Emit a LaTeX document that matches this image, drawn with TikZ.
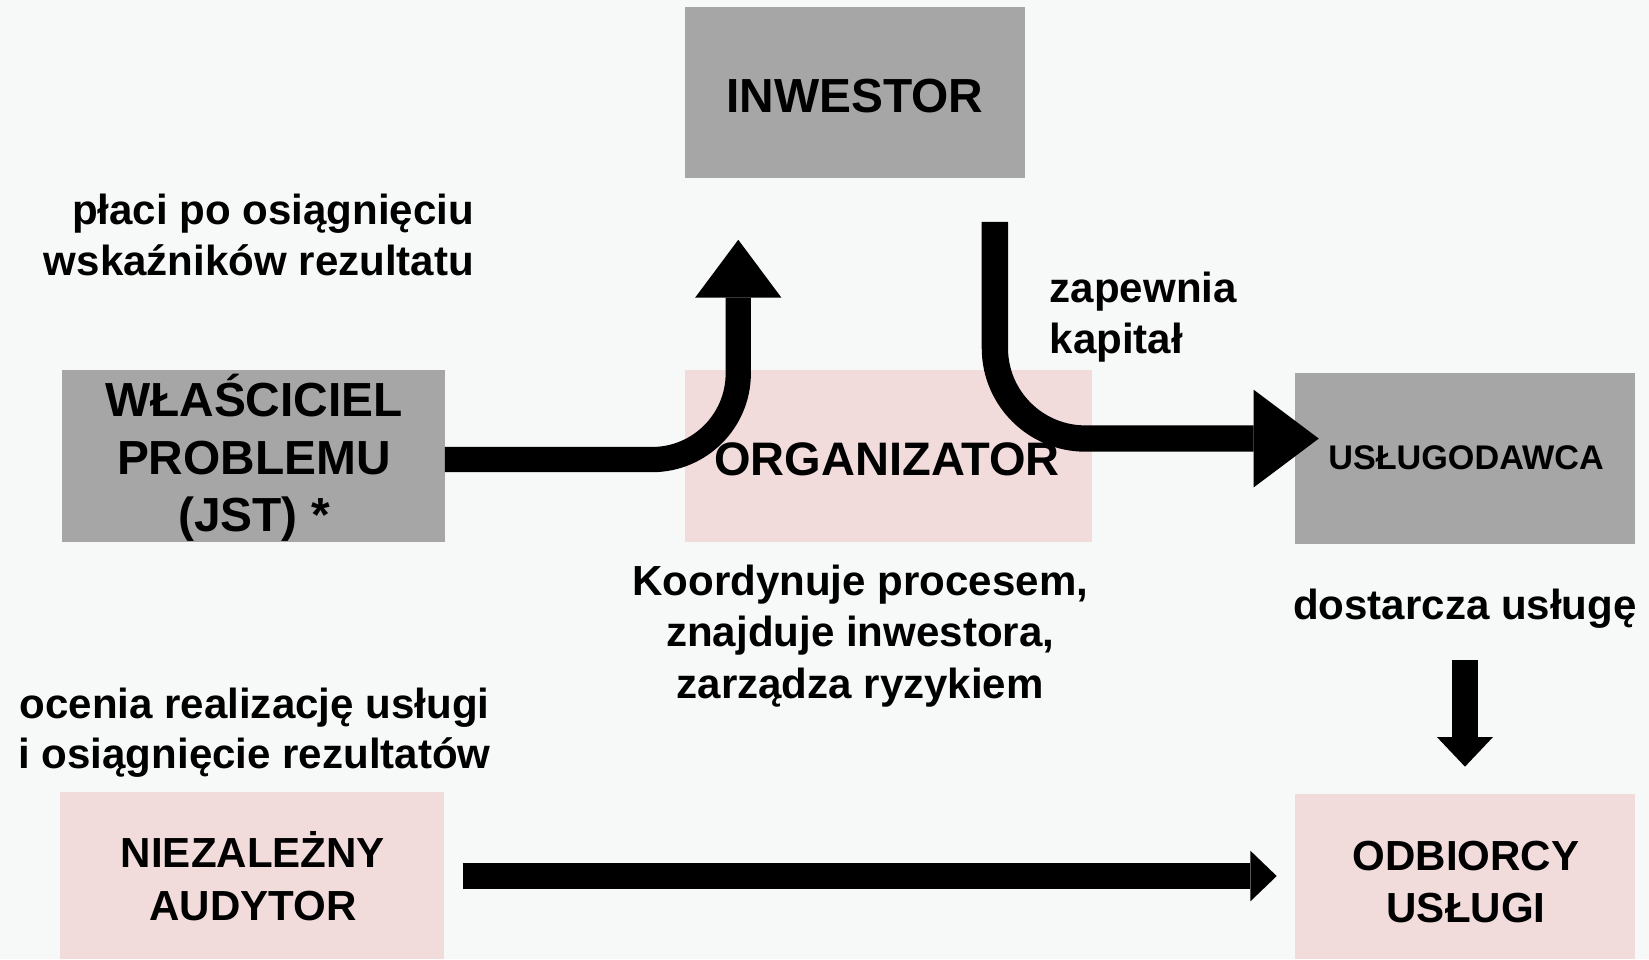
\documentclass[tikz,border=0pt]{standalone}
\usepackage{fontspec}
\setmainfont{Liberation Sans}
\usetikzlibrary{arrows.meta,calc}
\definecolor{bg}{HTML}{F7F8F8}
\definecolor{boxgray}{HTML}{A6A6A6}
\definecolor{boxpink}{HTML}{F2DCDB}
\begin{document}
\begin{tikzpicture}[x=1pt,y=-1pt,
  graybox/.style={fill=boxgray, draw=none, inner sep=0pt, outer sep=0pt},
  pinkbox/.style={fill=boxpink, draw=none, inner sep=0pt, outer sep=0pt},
  title/.style={font=\fontsize{45.5}{55}\selectfont\bfseries, anchor=base, inner sep=0pt},
  smalltitle/.style={font=\fontsize{40}{50}\selectfont\bfseries, anchor=base, inner sep=0pt},
  tinytitle/.style={font=\fontsize{32.5}{38}\selectfont\bfseries, anchor=base, inner sep=0pt},
  lbl/.style={font=\fontsize{40}{48}\selectfont\bfseries, anchor=base, inner sep=0pt},
  bigarrow/.style={line width=#1, draw=black}
]
\useasboundingbox (0,0) rectangle (1568,912);
\fill[bg] (0,0) rectangle (1568,912);

% boxes
\node[graybox, minimum width=324pt, minimum height=162pt] (inw) at (813,88) {};
\node[graybox, minimum width=364pt, minimum height=163pt] (wl) at (241,433.5) {};
\node[pinkbox, minimum width=387pt, minimum height=163pt] (org) at (844.5,433.5) {};
\node[graybox, minimum width=324pt, minimum height=162pt] (usl) at (1393,436) {};
\node[pinkbox, minimum width=365pt, minimum height=159pt] (aud) at (239.5,832.5) {};
\node[pinkbox, minimum width=324pt, minimum height=157pt] (odb) at (1393,833.5) {};

% connector end points
\coordinate (a1tip) at (702,228);
\coordinate (a2start) at (946,211);
\coordinate (a2tip) at (1254,417);
\coordinate (a3start) at (1393,628);
\coordinate (a3tip) at (1393,729);
\coordinate (a4start) at (440,833);
\coordinate (a4tip) at (1214,833);

% arrows
\draw[bigarrow=24pt, rounded corners=82pt,
  -{Triangle[length=55pt, width=82pt, line width=0pt]}]
  ($(wl.east)+(0,3.5)$) -| (a1tip);
\draw[bigarrow=25pt, rounded corners=86pt,
  -{Triangle[length=62pt, width=93pt, line width=0pt]}]
  (a2start) |- (a2tip);
\draw[bigarrow=25pt, -{Triangle[length=28pt, width=53pt, line width=0pt]}]
  (a3start) -- (a3tip);
\draw[bigarrow=25pt, -{Triangle[length=25pt, width=48pt, line width=0pt]}]
  (a4start) -- (a4tip);

% box texts
\node[title] (inwt) at (813,107) {INWESTOR};
\node[title] (wlt1) at (241.5,396) {WŁAŚCICIEL};
\node[title] (wlt2) at (241.5,451) {PROBLEMU};
\node[title] (wlt3) at (241.5,505.5) {(JST) *};
\node[title, font=\fontsize{44.7}{52}\selectfont\bfseries] (orgt) at (843.5,452) {ORGANIZATOR};
\node[tinytitle] (uslt) at (1394,446) {USŁUGODAWCA};
\node[smalltitle] (audt1) at (240.5,825) {NIEZALEŻNY};
\node[smalltitle] (audt2) at (240.5,875) {AUDYTOR};
\node[smalltitle] (odbt1) at (1394,828) {ODBIORCY};
\node[smalltitle] (odbt2) at (1394,877) {USŁUGI};

% labels
\node[lbl, anchor=base east] (pl1) at (451,213) {płaci po osiągnięciu};
\node[lbl, anchor=base east] (pl2) at (451,262) {wskaźników rezultatu};
\node[lbl, anchor=base west] (za1) at (998,288) {zapewnia};
\node[lbl, anchor=base west] (za2) at (998,336) {kapitał};
\node[lbl] (ko1) at (818,566) {Koordynuje procesem,};
\node[lbl] (ko2) at (818,615) {znajduje inwestora,};
\node[lbl] (ko3) at (818,664) {zarządza ryzykiem};
\node[lbl] (do1) at (1393,589) {dostarcza usługę};
\node[lbl] (oc1) at (242,683) {ocenia realizację usługi};
\node[lbl] (oc2) at (242,731) {i osiągnięcie rezultatów};
\end{tikzpicture}
\end{document}
